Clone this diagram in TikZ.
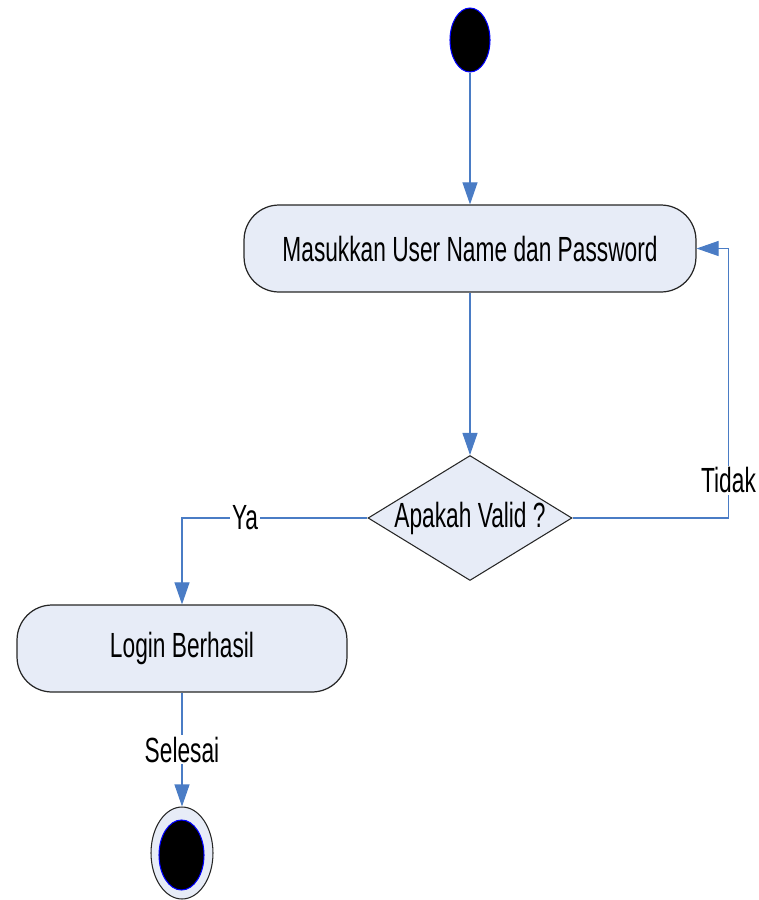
\documentclass[tikz,border=0pt]{standalone}
\usepackage{fontspec}
\setmainfont[FakeStretch=0.65]{Liberation Sans}
\usepackage{tikz}
\usetikzlibrary{shapes.geometric,arrows.meta}

\definecolor{actfill}{RGB}{231,236,247}
\definecolor{flowblue}{RGB}{74,124,197}

\begin{document}
\begin{tikzpicture}[x=0.02cm,y=-0.02cm,
    every node/.style={font=\fontsize{19.9}{24}\selectfont},
    activity/.style={draw=black!85,line width=0.7pt,fill=actfill,rounded corners=0.7cm,
      minimum height=1.74cm,inner sep=0pt},
    decision/.style={diamond,draw=black!85,line width=0.6pt,fill=actfill,
      minimum width=4.08cm,minimum height=2.5cm,inner sep=0pt},
    flow/.style={draw=flowblue,line width=0.6pt,-{Triangle[width=0.3cm,length=0.44cm]}},
    guard/.style={fill=white,inner sep=1pt}]
  \useasboundingbox (0,0) rectangle (759,900);

  % start, activities and decision
  \node[ellipse,draw=blue,line width=0.6pt,fill=black,minimum width=0.8cm,minimum height=1.28cm] (start) at (470,40) {};
  \node[activity,minimum width=9.04cm] (masuk) at (470,248.5) {Masukkan User Name dan Password};
  \node[decision,label=center:{Apakah Valid ?}] (valid) at (470,518) {};
  \node[activity,minimum width=6.6cm] (login) at (182,648.5) {Login Berhasil};

  % end
  \node[ellipse,draw=black!85,line width=0.6pt,fill=actfill,minimum width=1.24cm,minimum height=1.84cm] (end) at (182,853) {};
  \node[ellipse,draw=blue,line width=0.6pt,fill=black,minimum width=0.9cm,minimum height=1.4cm] (endin) at (181.5,855) {};

  % flows
  \draw[flow] (start) -- (masuk);
  \draw[flow] (masuk) -- (valid);
  \draw[flow] (valid.west) -| (login.north) node[guard,pos=0.33] {Ya};
  \draw[flow] (valid.east) -- ++(156,0) |- (masuk.east) node[guard,pos=0.07] {Tidak};
  \draw[flow] (login) -- (end) node[guard,midway] {Selesai};
\end{tikzpicture}
\end{document}
